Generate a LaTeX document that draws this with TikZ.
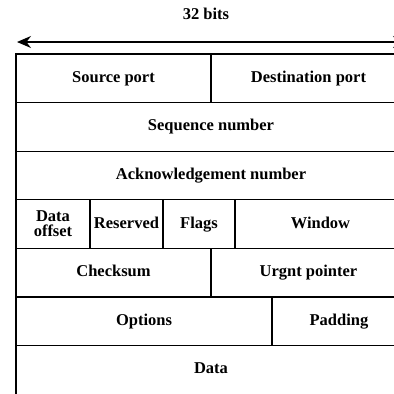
\documentclass[tikz,border=0pt]{standalone}
\usepackage{fontspec}
\setmainfont{Liberation Serif}
\usetikzlibrary{arrows.meta, positioning}

\begin{document}
\begin{tikzpicture}[
    x=1pt, y=1pt,
    field/.style={draw, line width=1.2pt, outer sep=0pt, inner sep=1pt, minimum height=48.6pt, align=center, font=\fontsize{16.5}{15}\selectfont\bfseries},
    line/.style={text height=11.5pt, text depth=3.5pt},
    arrow/.style={{Stealth[length=14pt, width=12pt]}-{Stealth[length=14pt, width=12pt]}, line width=1.5pt}
]
    \useasboundingbox (0,0) rectangle (394,-394);
    \clip (0,0) rectangle (394,-394);

    % width label
    \node[font=\fontsize{16.5}{18}\selectfont\bfseries] (bits) at (206,-14) {32 bits};
    \coordinate (wl) at (17,-42);
    \coordinate (wr) at (407,-42);
    \draw[arrow] (wl) -- (wr);

    % header rows
    \node[field, line, minimum width=195pt, anchor=north west] (src) at (16,-54) {Source port};
    \node[field, line, minimum width=195pt, right=0pt of src] (dst) {Destination port};
    \node[field, line, minimum width=390pt, anchor=north west] (seq) at (src.south west) {Sequence number};
    \node[field, line, minimum width=390pt, anchor=north west] (ack) at (seq.south west) {Acknowledgement number};
    \node[field, minimum width=74pt, anchor=north west] (off) at (ack.south west) {Data\\offset};
    \node[field, line, minimum width=73pt, right=0pt of off] (res) {Reserved};
    \node[field, line, minimum width=72pt, right=0pt of res] (flags) {Flags};
    \node[field, line, minimum width=171pt, right=0pt of flags] (win) {Window};
    \node[field, line, minimum width=195pt, anchor=north west] (chk) at (off.south west) {Checksum};
    \node[field, line, minimum width=195pt, right=0pt of chk] (urg) {Urgnt pointer};
    \node[field, line, minimum width=256pt, anchor=north west] (opt) at (chk.south west) {Options};
    \node[field, line, minimum width=134pt, right=0pt of opt] (pad) {Padding};
    \node[field, line, minimum width=390pt, anchor=north west] (data) at (opt.south west) {Data};
\end{tikzpicture}
\end{document}
